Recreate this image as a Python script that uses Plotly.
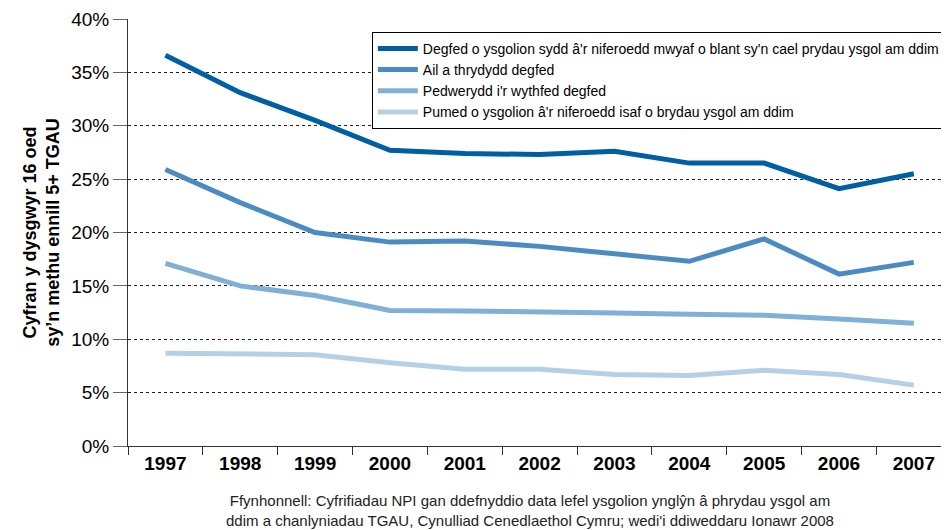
import plotly.graph_objects as go

years = ["1997", "1998", "1999", "2000", "2001", "2002", "2003", "2004", "2005", "2006", "2007"]

top_decile = [36.6, 33.1, 30.5, 27.7, 27.4, 27.3, 27.6, 26.5, 26.5, 24.1, 25.5]
second_third = [25.9, 22.8, 20.0, 19.1, 19.2, 18.7, 18.0, 17.3, 19.4, 16.1, 17.2]
fourth_eighth = [17.1, 15.0, 14.1, 12.7, 12.65, 12.5, 12.45, 12.35, 12.25, 11.9, 11.5]
fifth_lowest = [8.7, 8.6, 8.55, 7.8, 7.2, 7.2, 6.7, 6.6, 7.1, 6.7, 5.7]

series_names = [
    "Degfed o ysgolion sydd â'r niferoedd mwyaf o blant sy'n cael prydau ysgol am ddim",
    "Ail a thrydydd degfed",
    "Pedwerydd i'r wythfed degfed",
    "Pumed o ysgolion â'r niferoedd isaf o brydau ysgol am ddim",
]
colors = ["#005ea2", "#4a8cc2", "#80b0d5", "#b4d0e6"]

font_family = "Arial, Liberation Sans, sans-serif"

fig = go.Figure()
for name, vals, col in zip(series_names, [top_decile, second_third, fourth_eighth, fifth_lowest], colors):
    fig.add_trace(go.Scatter(x=years, y=vals, name=name, mode="lines",
                             line=dict(color=col, width=5)))

# page body has an 8px margin, so the figure is a bit smaller than the window
fig.update_layout(
    width=941, height=522,
    margin=dict(l=120, r=0, t=11, b=84),
    paper_bgcolor="white", plot_bgcolor="white",
    font=dict(family=font_family, color="black"),
    showlegend=True,
    legend=dict(x=0.297, y=0.97, xanchor="left", yanchor="top",
                bgcolor="white", bordercolor="black", borderwidth=1,
                font=dict(size=14, family=font_family), itemwidth=40,
                tracegroupgap=0),
    xaxis=dict(type="category", range=[-0.5, 10.47],
               showline=True, linecolor="#333", linewidth=1,
               ticks="outside", tickson="boundaries", ticklen=8, tickcolor="#333",
               tickfont=dict(size=19, family=font_family, weight="bold"),
               showgrid=False),
    yaxis=dict(range=[0, 40], dtick=5, ticksuffix="%",
               showline=True, linecolor="#333", linewidth=1,
               ticks="outside", ticklen=14, tickcolor="#666",
               tickfont=dict(size=19, family=font_family),
               showgrid=True, gridcolor="#222", griddash="dot", gridwidth=1,
               zeroline=False,
               title=dict(text="Cyfran y dysgwyr 16 oed<br>sy’n methu ennill 5+ TGAU",
                          font=dict(size=18, family=font_family, weight="bold"),
                          standoff=6)),
)

fig.add_annotation(
    text="Ffynhonnell: Cyfrifiadau NPI gan ddefnyddio data lefel ysgolion ynglŷn â phrydau ysgol am<br>"
         "ddim a chanlyniadau TGAU, Cynulliad Cenedlaethol Cymru; wedi'i ddiweddaru Ionawr 2008",
    xref="paper", yref="paper", x=0.49, y=-0.102, xanchor="center", yanchor="top",
    showarrow=False, font=dict(size=15, family=font_family, color="#222"), align="center",
)

fig.write_html("out.html")
